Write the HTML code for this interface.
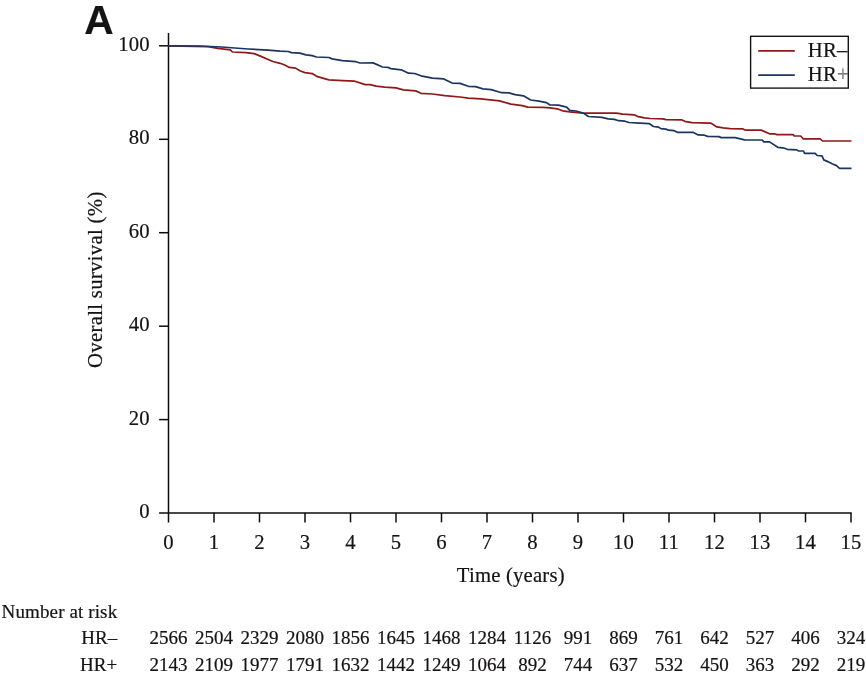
<!DOCTYPE html>
<html><head><meta charset="utf-8"><title>Overall survival</title>
<style>
html,body{margin:0;padding:0;background:#fff;}
body{width:866px;height:684px;overflow:hidden;}
svg{display:block;}
text{font-family:"Liberation Serif",serif;fill:#161314;stroke:#161314;stroke-width:0.2px;}
.ax{font-size:20.7px;letter-spacing:0.2px;}
.rt{font-size:19px;}
.pl{font-family:"Liberation Sans",sans-serif;font-weight:bold;font-size:40.7px;fill:#141414;}
</style></head><body>
<svg width="866" height="684" viewBox="0 0 866 684">
<rect width="866" height="684" fill="#fff"/>
<text class="pl" transform="translate(84.2 33.5) scale(1.0 1)">A</text>
<g stroke="#0c0c0c" stroke-width="1.5" fill="none">
<line x1="168.5" y1="32.9" x2="168.5" y2="522.4"/>
<line x1="159.1" y1="513.1" x2="851.7" y2="513.1"/>
<line x1="159.1" y1="419.6" x2="168.5" y2="419.6"/>
<line x1="159.1" y1="326.2" x2="168.5" y2="326.2"/>
<line x1="159.1" y1="232.7" x2="168.5" y2="232.7"/>
<line x1="159.1" y1="139.3" x2="168.5" y2="139.3"/>
<line x1="159.1" y1="45.8" x2="168.5" y2="45.8"/>
<line x1="214.0" y1="513.1" x2="214.0" y2="522.4"/>
<line x1="259.5" y1="513.1" x2="259.5" y2="522.4"/>
<line x1="305.0" y1="513.1" x2="305.0" y2="522.4"/>
<line x1="350.5" y1="513.1" x2="350.5" y2="522.4"/>
<line x1="396.0" y1="513.1" x2="396.0" y2="522.4"/>
<line x1="441.5" y1="513.1" x2="441.5" y2="522.4"/>
<line x1="487.0" y1="513.1" x2="487.0" y2="522.4"/>
<line x1="532.5" y1="513.1" x2="532.5" y2="522.4"/>
<line x1="578.0" y1="513.1" x2="578.0" y2="522.4"/>
<line x1="623.5" y1="513.1" x2="623.5" y2="522.4"/>
<line x1="669.0" y1="513.1" x2="669.0" y2="522.4"/>
<line x1="714.5" y1="513.1" x2="714.5" y2="522.4"/>
<line x1="760.0" y1="513.1" x2="760.0" y2="522.4"/>
<line x1="805.5" y1="513.1" x2="805.5" y2="522.4"/>
<line x1="851.0" y1="513.1" x2="851.0" y2="522.4"/>
</g>
<polyline points="168.5,45.8 208.2,46.7 217.8,48.3 230.3,49.9 232.4,52.0 245.9,52.7 254.2,53.6 260.4,56.1 268.8,59.8 272.9,61.5 280.0,63.3 284.2,64.8 289.4,67.4 295.6,68.1 299.8,70.8 304.9,72.6 312.2,73.6 317.4,76.7 328.9,79.9 342.4,80.6 354.8,81.2 365.2,84.6 370.0,84.7 376.2,86.2 384.6,87.1 396.0,87.8 403.3,89.9 415.7,90.9 420.9,93.3 432.4,94.0 444.8,95.6 460.0,97.0 468.3,98.1 480.8,98.9 499.5,100.8 510.9,104.1 522.4,105.7 527.6,107.1 543.2,107.3 550.0,107.9 557.3,108.8 562.5,110.8 569.8,111.9 583.3,113.1 616.5,113.1 622.8,114.2 634.2,114.8 638.4,116.8 640.0,116.8 644.2,117.9 650.4,118.5 662.9,118.8 666.0,119.6 681.6,119.8 684.7,121.3 692.0,122.7 710.7,123.1 716.9,126.9 723.2,127.9 730.0,128.7 742.5,128.8 745.1,130.1 761.2,130.1 769.5,133.8 774.7,133.8 776.8,134.6 793.1,134.7 794.2,135.9 800.6,136.0 803.4,138.8 820.2,138.8 822.5,141.0 851.5,141.0" fill="none" stroke="#911818" stroke-width="1.72" stroke-linejoin="round"/>
<polyline points="168.5,45.8 198.3,46.0 221.5,47.0 248.1,49.0 268.1,50.2 280.0,51.1 288.3,51.5 291.4,52.6 299.8,53.1 306.0,54.9 312.2,55.6 316.4,57.0 328.9,57.5 332.0,58.9 342.4,60.6 355.9,61.7 360.0,63.0 373.1,62.9 382.5,67.0 387.7,67.3 390.8,68.6 401.2,69.8 408.5,73.2 414.7,73.5 420.9,75.8 432.4,78.1 443.8,78.9 452.1,83.1 460.0,83.4 468.3,86.3 475.6,86.7 482.9,88.8 491.2,89.6 501.6,92.7 508.9,92.9 515.1,94.6 523.4,95.8 530.7,100.0 539.0,101.2 546.3,102.6 550.0,104.9 558.3,105.1 566.6,107.2 569.8,110.3 576.0,111.0 583.3,113.1 588.5,116.5 602.0,117.3 608.2,118.9 614.4,119.4 618.6,120.7 624.8,121.2 629.0,122.5 640.0,123.1 649.4,123.7 653.5,126.5 658.7,127.1 660.8,128.6 666.0,129.1 668.1,130.2 674.3,130.7 677.4,132.3 693.0,132.3 698.2,134.9 704.4,135.2 707.6,136.4 719.0,136.6 721.1,137.6 735.2,137.7 744.6,139.8 762.2,140.0 763.8,141.9 769.5,141.9 777.8,147.3 783.0,147.8 787.2,149.3 796.8,149.9 798.3,150.9 803.5,151.0 804.6,153.3 815.1,153.3 817.2,155.5 822.0,155.9 823.8,159.9 827.8,161.6 832.1,163.8 836.5,165.6 839.6,168.3 851.5,168.3" fill="none" stroke="#1b3562" stroke-width="1.72" stroke-linejoin="round"/>
<g class="ax" text-anchor="end">
<text x="149.8" y="518.1">0</text>
<text x="149.8" y="424.6">20</text>
<text x="149.8" y="331.2">40</text>
<text x="149.8" y="237.7">60</text>
<text x="149.8" y="144.3">80</text>
<text x="149.8" y="50.8">100</text>
</g>
<g class="ax" text-anchor="middle">
<text x="168.5" y="548.6">0</text>
<text x="214.0" y="548.6">1</text>
<text x="259.5" y="548.6">2</text>
<text x="305.0" y="548.6">3</text>
<text x="350.5" y="548.6">4</text>
<text x="396.0" y="548.6">5</text>
<text x="441.5" y="548.6">6</text>
<text x="487.0" y="548.6">7</text>
<text x="532.5" y="548.6">8</text>
<text x="578.0" y="548.6">9</text>
<text x="623.5" y="548.6">10</text>
<text x="669.0" y="548.6">11</text>
<text x="714.5" y="548.6">12</text>
<text x="760.0" y="548.6">13</text>
<text x="805.5" y="548.6">14</text>
<text x="851.0" y="548.6">15</text>
<text x="510.8" y="582">Time (years)</text>
<text transform="translate(101.8 279.7) rotate(-90)" style="letter-spacing:0.33px">Overall survival (%)</text>
</g>
<rect x="750.6" y="36.3" width="97.7" height="51.8" fill="#fff" stroke="#161314" stroke-width="1.4"/>
<line x1="758.2" y1="50.9" x2="794.8" y2="50.9" stroke="#911818" stroke-width="1.9"/>
<line x1="758.2" y1="75.1" x2="794.8" y2="75.1" stroke="#1b3562" stroke-width="1.9"/>
<text class="ax" x="807.8" y="56.8">HR–</text>
<text class="ax" x="807.8" y="80.9">HR<tspan fill="#9a9a9a">+</tspan></text>
<g class="rt">
<text x="1.6" y="617.6" style="letter-spacing:0.12px">Number at risk</text>
<text x="117.2" y="644.2" text-anchor="end">HR–</text>
<text x="117.2" y="671.1" text-anchor="end">HR+</text>
<g text-anchor="middle">
<text x="168.5" y="644.2">2566</text><text x="168.5" y="671.1">2143</text>
<text x="214.0" y="644.2">2504</text><text x="214.0" y="671.1">2109</text>
<text x="259.5" y="644.2">2329</text><text x="259.5" y="671.1">1977</text>
<text x="305.0" y="644.2">2080</text><text x="305.0" y="671.1">1791</text>
<text x="350.5" y="644.2">1856</text><text x="350.5" y="671.1">1632</text>
<text x="396.0" y="644.2">1645</text><text x="396.0" y="671.1">1442</text>
<text x="441.5" y="644.2">1468</text><text x="441.5" y="671.1">1249</text>
<text x="487.0" y="644.2">1284</text><text x="487.0" y="671.1">1064</text>
<text x="532.5" y="644.2">1126</text><text x="532.5" y="671.1">892</text>
<text x="578.0" y="644.2">991</text><text x="578.0" y="671.1">744</text>
<text x="623.5" y="644.2">869</text><text x="623.5" y="671.1">637</text>
<text x="669.0" y="644.2">761</text><text x="669.0" y="671.1">532</text>
<text x="714.5" y="644.2">642</text><text x="714.5" y="671.1">450</text>
<text x="760.0" y="644.2">527</text><text x="760.0" y="671.1">363</text>
<text x="805.5" y="644.2">406</text><text x="805.5" y="671.1">292</text>
<text x="851.0" y="644.2">324</text><text x="851.0" y="671.1">219</text>
</g></g>
</svg></body></html>
